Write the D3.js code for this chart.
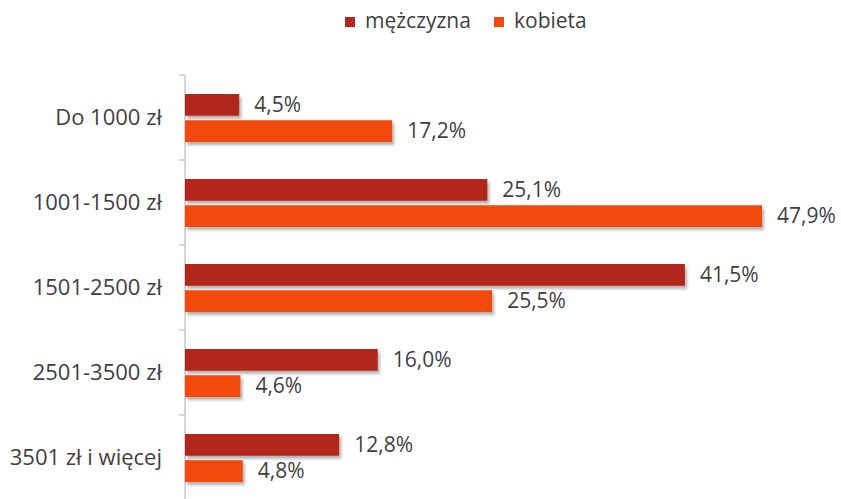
<!DOCTYPE html>
<html>
<head>
<meta charset="utf-8">
<script src="https://cdn.jsdelivr.net/npm/d3@7"></script>
<style>
  body { margin: 0; background: #fff; }
  text { font-family: "Open Sans", "Noto Sans", sans-serif; fill: #3f3f3f; }
</style>
</head>
<body>
<div id="graph"></div>
<script>
// data
var categories = ["Do 1000 zł", "1001-1500 zł", "1501-2500 zł", "2501-3500 zł", "3501 zł i więcej"];
var seriesNames = ["mężczyzna", "kobieta"];
var men = [4.5, 25.1, 41.5, 16.0, 12.8];
var women = [17.2, 47.9, 25.5, 4.6, 4.8];
var colors = ["#b3281a", "#f4490b"];

var width = 841, height = 499;

var svg = d3.select("#graph")
  .append("svg")
    .attr("width", width)
    .attr("height", height)

// soft shadow under the bars
var f = svg.append("defs").append("filter")
    .attr("id", "shadow")
    .attr("x", "-5%").attr("y", "-20%")
    .attr("width", "120%").attr("height", "160%")
f.append("feDropShadow")
    .attr("dx", 2).attr("dy", 3)
    .attr("stdDeviation", 1.5)
    .attr("flood-color", "#000")
    .attr("flood-opacity", 0.3)

var y = d3.scaleBand()
    .domain(categories)
    .range([75, 500])

var x = d3.scaleLinear()
    .domain([0, 47.9])
    .range([185, 762])

var inner = d3.scaleBand()
    .domain(seriesNames)
    .range([19, 67])
    .paddingInner(0.17)

// axis line + ticks
var ax = svg.append("g")
ax.append("line")
    .attr("x1", 185).attr("x2", 185)
    .attr("y1", 75).attr("y2", 499)
    .style("stroke", "#c8c8c8")
    .style("stroke-width", 1.5)
ax.selectAll(".tick")
  .data(d3.range(categories.length + 1))
  .enter()
  .append("line")
    .attr("x1", 179).attr("x2", 185)
    .attr("y1", function(d) { return 75 + d * y.step(); })
    .attr("y2", function(d) { return 75 + d * y.step(); })
    .style("stroke", "#c8c8c8")
    .style("stroke-width", 1.5)

// category labels
svg.append("g")
  .selectAll("text")
  .data(categories)
  .enter()
  .append("text")
    .attr("x", 162)
    .attr("y", function(d) { return y(d) + y.bandwidth() / 2; })
    .attr("dy", "0.35em")
    .attr("text-anchor", "end")
    .style("font-size", "22px")
    .text(function(d) { return d; })

// bars
var rows = [];
categories.forEach(function(c, i) {
  rows.push({cat: c, s: 0, v: men[i]});
  rows.push({cat: c, s: 1, v: women[i]});
});

svg.append("g")
  .selectAll("rect")
  .data(rows)
  .enter()
  .append("rect")
    .attr("x", x(0))
    .attr("y", function(d) { return y(d.cat) + inner(seriesNames[d.s]); })
    .attr("width", function(d) { return x(d.v) - x(0); })
    .attr("height", inner.bandwidth())
    .attr("filter", "url(#shadow)")
    .style("fill", function(d) { return colors[d.s]; })

svg.append("g")
  .selectAll("text")
  .data(rows)
  .enter()
  .append("text")
    .attr("x", function(d) { return x(d.v) + 15; })
    .attr("y", function(d) { return y(d.cat) + inner(seriesNames[d.s]) + inner.bandwidth() / 2; })
    .attr("dy", "0.35em")
    .style("font-size", "21px")
    .text(function(d) { return d.v.toFixed(1).replace(".", ",") + "%"; })

// legend
var leg = svg.append("g")
var lx = [345, 494];
seriesNames.forEach(function(n, i) {
  leg.append("rect")
    .attr("x", lx[i]).attr("y", 17)
    .attr("width", 10).attr("height", 10)
    .style("fill", colors[i])
  leg.append("text")
    .attr("x", lx[i] + 20).attr("y", 21)
    .attr("dy", "0.35em")
    .style("font-size", "21px")
    .text(n)
});
</script>
</body>
</html>
